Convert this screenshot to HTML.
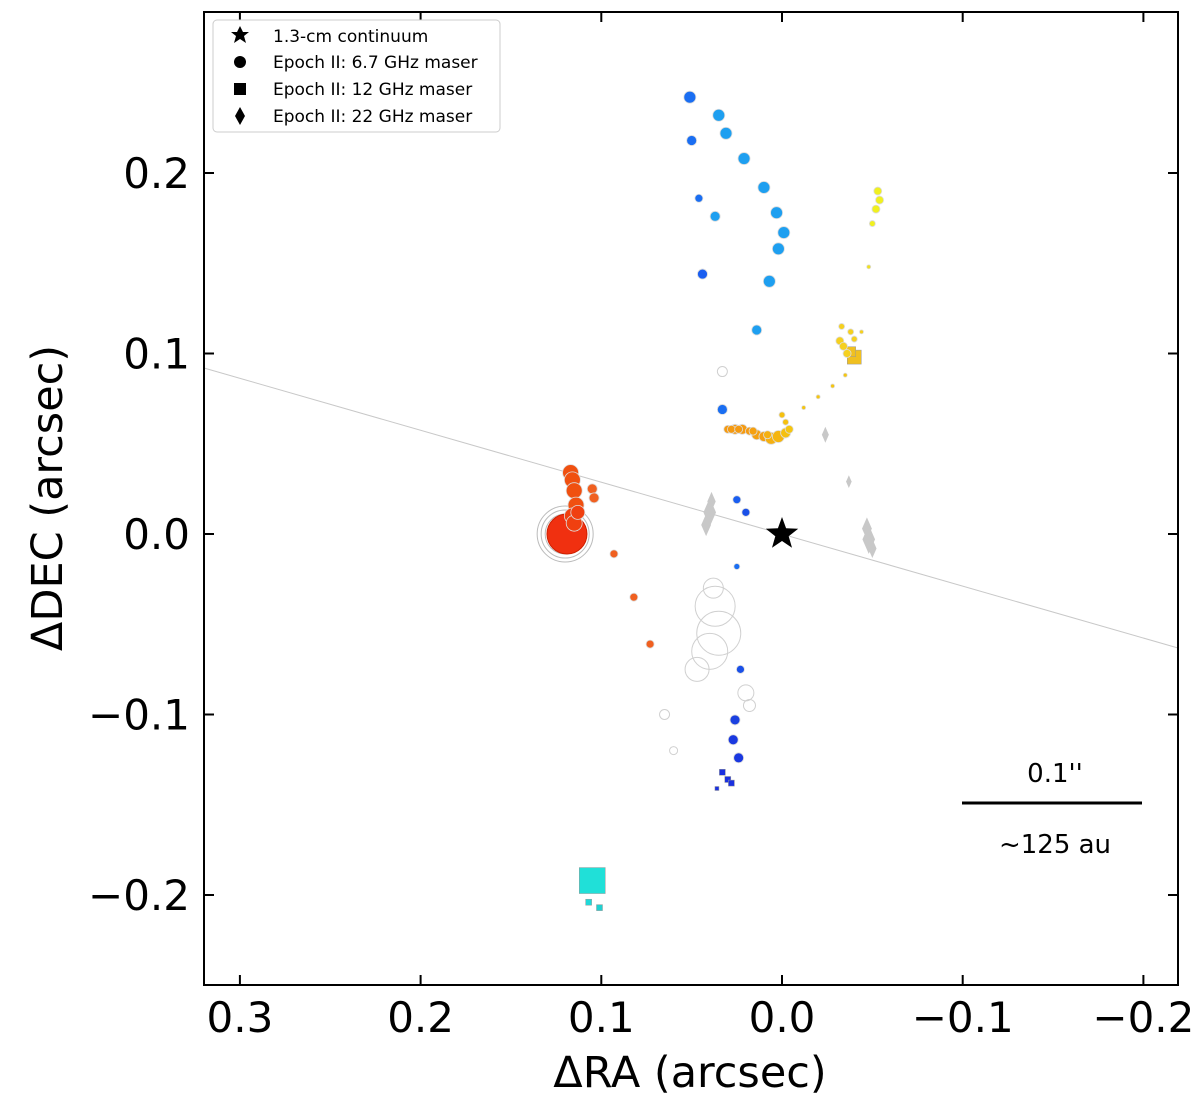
<!DOCTYPE html>
<html><head><meta charset="utf-8"><style>
html,body{margin:0;padding:0;background:#fff}
svg{display:block;font-family:"DejaVu Sans","Liberation Sans",sans-serif}
</style></head><body>
<svg id="chart" width="1200" height="1102" viewBox="0 0 1200 1102">
<g id="marks"></g>
<g id="axes"></g>
</svg>
<script>
// ---- data ----
const xTicks=[0.3,0.2,0.1,0.0,-0.1,-0.2];
const xTickLabels=["0.3","0.2","0.1","0.0","\u22120.1","\u22120.2"];
const yTicks=[0.2,0.1,0.0,-0.1,-0.2];
const yTickLabels=["0.2","0.1","0.0","\u22120.1","\u22120.2"];
// 6.7 GHz circles: ra, dec, radius(px), color
const circRA=[0.051,0.050,0.046,0.044,0.037,0.035,0.031,0.021,0.010,0.003,-0.001,0.002,0.007,0.014,0.033,0.020,0.025,0.025,0.023,0.026,0.027,0.024,
 0.030,0.026,0.022,0.018,0.014,0.010,0.006,0.002,-0.002,-0.004,0.000,-0.032,-0.034,-0.036,-0.053,-0.054,-0.052,
 0.117,0.116,0.115,0.114,0.105,0.104,0.093,0.082,0.073,
 0.028,0.024,0.016,0.008,-0.002,-0.012,-0.020,-0.028,-0.035,-0.033,-0.038,-0.040,-0.044,-0.048,-0.050,0.116,0.115,0.113];
const circDEC=[0.242,0.218,0.186,0.144,0.176,0.232,0.222,0.208,0.192,0.178,0.167,0.158,0.140,0.113,0.069,0.012,0.019,-0.018,-0.075,-0.103,-0.114,-0.124,
 0.058,0.058,0.058,0.057,0.055,0.054,0.053,0.054,0.056,0.058,0.066,0.107,0.104,0.100,0.190,0.185,0.180,
 0.034,0.030,0.024,0.016,0.025,0.020,-0.011,-0.035,-0.061,
 0.058,0.058,0.057,0.055,0.062,0.070,0.076,0.082,0.088,0.115,0.112,0.108,0.112,0.148,0.172,0.010,0.006,0.012];
const circR=[6,5,4,5,5,6,6,6,6,6,6,6,6,5,5,4,4,3,4,5,5,5,
 4,5,5,4,5,5,6,6,5,4,3,4,4,4,4,4,4,
 8,8,8,8,5,5,4,4,4,
 4,4,4,4,3,2,2,2,2,3,3,3,2,2,3,8,8,7];
const circC=["#1a6ef2","#1a6ef2","#1a6ef2","#1a5ef0","#1e9ff0","#1e9ff0","#1e9ff0","#1e9ff0","#1e9ff0","#1e9ff0","#1e9ff0","#1e9ff0","#1e9ff0","#1e9ff0","#1a6ef2","#1a50e8","#1a5ef0","#1a6ef2","#1a50e8","#1a40e0","#1a38e0","#1a38e0",
 "#f59a10","#f59a10","#f59a10","#f59a10","#f5a010","#f5a010","#f5b010","#f5b510","#f5c010","#f5c510","#f5c010","#f5d020","#f5d020","#f5d020","#f0f020","#f0f020","#f0f020",
 "#f05010","#f05010","#f05010","#f05010","#f06020","#f06020","#f06020","#f06020","#f06020",
 "#f59a10","#f59a10","#f5a010","#f5b010","#f5c010","#f5c510","#f5c510","#f5c510","#f5c510","#f5d020","#f5d020","#f5d020","#f5d020","#f0e020","#f0f020","#f04010","#f04010","#f04010"];
// 12 GHz squares: ra, dec, half-size, color
const sqRA=[0.105,0.107,0.101,0.030,0.033,0.028,0.036,-0.040,-0.038];
const sqDEC=[-0.192,-0.204,-0.207,-0.136,-0.132,-0.138,-0.141,0.098,0.101];
const sqS=[13,3,3,3,3,3,2,7,5];
const sqC=["#20e0d8","#20d8d8","#20d0d0","#1a30e0","#1a30e0","#1a30e0","#1a30e0","#f0c020","#f0c020"];
// 22 GHz diamonds (gray): ra, dec, size
const diaRA=[0.040,0.042,0.039,-0.048,-0.047,-0.050,-0.024,-0.037];
const diaDEC=[0.012,0.005,0.018,-0.003,0.003,-0.008,0.055,0.029];
const diaS=[9,7,6,9,7,6,5,4];
// gray open circles (epoch I)
const gRA=[0.037,0.035,0.040,0.047,0.038,0.020,0.018,0.065,0.060,0.033];
const gDEC=[-0.040,-0.055,-0.065,-0.075,-0.030,-0.088,-0.095,-0.100,-0.120,0.090];
const gR=[20,22,18,12,10,8,6,5,4,5];
// ---- axes functions ----
const X=v=>782-v*1807, Y=v=>534-v*1805;
const NS="http://www.w3.org/2000/svg";
const marks=document.getElementById('marks'), axes=document.getElementById('axes');
function mk(tag,attrs,parent){const e=document.createElementNS(NS,tag);for(const k in attrs)e.setAttribute(k,attrs[k]);parent.appendChild(e);return e;}
let ln=mk('line',{x1:204,y1:368,x2:1178,y2:648,stroke:'#c8c8c8','stroke-width':1},marks);


gRA.forEach((r,i)=>{const c=mk('circle',{cx:X(r),cy:Y(gDEC[i]),r:gR[i],fill:'none',stroke:'#d0d0d0','stroke-width':1},marks);

});
[28,24,20].forEach(r=>{const c=mk('circle',{cx:X(0.120),cy:Y(0.0),r:r,fill:'none',stroke:'#bbb','stroke-width':1},marks);

});
const red=mk('circle',{cx:X(0.119),cy:Y(0.0),r:20,fill:'#f03010',stroke:'#d02000','stroke-width':1},marks);


diaRA.forEach((r,i)=>{const cx=X(r),cy=Y(diaDEC[i]),s=diaS[i];
const p=mk('polygon',{points:`${cx},${cy-s*1.6} ${cx+s*0.7},${cy} ${cx},${cy+s*1.6} ${cx-s*0.7},${cy}`,fill:'#c8c8c8'},marks);

});
sqRA.forEach((r,i)=>{const s=sqS[i];
const q=mk('rect',{x:X(r)-s,y:Y(sqDEC[i])-s,width:2*s,height:2*s,fill:sqC[i],stroke:'#999','stroke-width':0.5},marks);

});
circRA.forEach((r,i)=>{const c=mk('circle',{cx:X(r),cy:Y(circDEC[i]),r:circR[i],fill:circC[i],stroke:'#ddd','stroke-width':0.8},marks);

});
function starPts(cx,cy,R,r){let p=[];for(let k=0;k<10;k++){const a=-Math.PI/2+k*Math.PI/5,rr=k%2?r:R;p.push((cx+rr*Math.cos(a)).toFixed(1)+','+(cy+rr*Math.sin(a)).toFixed(1));}return p.join(' ');}
const st=mk('polygon',{points:starPts(X(0),Y(0),17,7),fill:'#000'},marks);


const fr=mk('rect',{x:204,y:12,width:974,height:973,fill:'none',stroke:'#000','stroke-width':2},axes);


xTicks.forEach((v,i)=>{const x=X(v);
mk('line',{x1:x,y1:985,x2:x,y2:975,stroke:'#000','stroke-width':2},axes);
mk('line',{x1:x,y1:12,x2:x,y2:22,stroke:'#000','stroke-width':2},axes);
const t=mk('text',{x:x,y:1032,'font-size':42,'text-anchor':'middle'},axes);t.textContent=xTickLabels[i];

});
yTicks.forEach((v,i)=>{const y=Y(v);
mk('line',{x1:204,y1:y,x2:214,y2:y,stroke:'#000','stroke-width':2},axes);
mk('line',{x1:1178,y1:y,x2:1168,y2:y,stroke:'#000','stroke-width':2},axes);
const t=mk('text',{x:190,y:y+15,'font-size':42,'text-anchor':'end'},axes);t.textContent=yTickLabels[i];

});
</script>
<svg style="position:absolute;left:0;top:0" width="1200" height="1102">
<text x="690" y="1087" font-size="43" text-anchor="middle">ΔRA (arcsec)</text>
<text transform="translate(62,498) rotate(-90)" font-size="43" text-anchor="middle">ΔDEC (arcsec)</text>
<line x1="962" y1="803" x2="1142" y2="803" stroke="#000" stroke-width="3"/>
<text x="1055" y="782" font-size="26" text-anchor="middle">0.1''</text>
<text x="1055" y="853" font-size="26" text-anchor="middle">~125 au</text>
<g>
<rect x="213" y="20" width="287" height="112" rx="4" fill="#fff" stroke="#ccc"/>
<polygon points="240,26 243,32 249,32 244,36 246,43 240,39 234,43 236,36 231,32 237,32" fill="#000"/>
<text x="273" y="42" font-size="17">1.3-cm continuum</text>
<circle cx="240" cy="62" r="6" fill="#000"/>
<text x="273" y="68" font-size="17">Epoch II: 6.7 GHz maser</text>
<rect x="234" y="83" width="12" height="12" fill="#000"/>
<text x="273" y="95" font-size="17">Epoch II: 12 GHz maser</text>
<polygon points="240,107 245,116 240,125 235,116" fill="#000"/>
<text x="273" y="122" font-size="17">Epoch II: 22 GHz maser</text>
</g>
</svg>
</body></html>
